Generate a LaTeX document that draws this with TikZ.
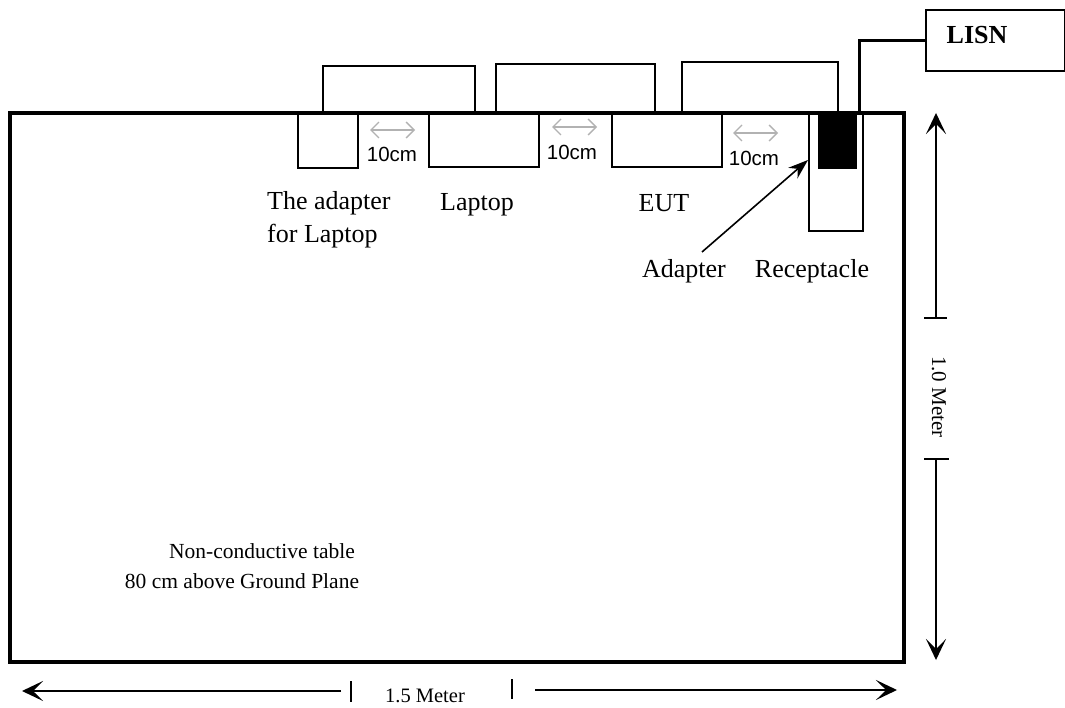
\documentclass[tikz,border=0pt]{standalone}
\usepackage{fontspec}
\setmainfont{Liberation Serif}
\newfontfamily\arialfont{Liberation Sans}
\usetikzlibrary{arrows.meta}
\tikzset{
  box/.style={draw, line width=1.6pt, inner sep=0pt, anchor=north west},
  lbl/.style={font=\fontsize{26}{33}\selectfont, inner sep=0pt, anchor=base},
  small/.style={font=\fontsize{21.5}{30}\selectfont, inner sep=0pt, anchor=base},
  gap/.style={gray!60, line width=1.4pt, {Straight Barb[length=8pt,width=16pt]}-{Straight Barb[length=8pt,width=16pt]}},
  gaplbl/.style={font=\arialfont\fontsize{20.5}{22}\selectfont, inner sep=0pt},
  dim/.style={line width=1.5pt},
  dimtip/.style={-{Stealth[length=21pt,width=20pt,inset=10pt]}},
}
\begin{document}
\begin{tikzpicture}[x=1pt, y=-1pt]
  \useasboundingbox (0,0) rectangle (1065,708);
  % cords behind the table
  \node[box, minimum width=152, minimum height=48] (cordA) at (322,65) {};
  \node[box, minimum width=159, minimum height=50] (cordB) at (495,63) {};
  \node[box, minimum width=156, minimum height=52] (cordC) at (681,61) {};
  % table
  \draw[line width=3.3pt, fill=white] (10,113) rectangle (904,662);
  \node[box, minimum width=60, minimum height=54] (lapadapter) at (297,113) {};
  \node[box, minimum width=110, minimum height=53] (laptop) at (428,113) {};
  \node[box, minimum width=110, minimum height=53] (eut) at (611,113) {};
  \node[box, minimum width=54, minimum height=117] (recept) at (808,113) {};
  \node[box, fill=black, minimum width=37, minimum height=53] (plug) at (818,114) {};
  \node[box, minimum width=139, minimum height=61] (lisn) at (925,9) {};
  \node[lbl, font=\bfseries\fontsize{26}{30}\selectfont] (lisnlbl) at (977,44) {LISN};
  \coordinate (wire) at (859,113);
  \draw[line width=3pt] (wire) |- (lisn.west);
  % 10cm spacing
  \draw[gap] (370,130) -- (415,130);
  \draw[gap] (552,127) -- (597,127);
  \draw[gap] (733,133) -- (778,133);
  \node[gaplbl] (gapA) at (392,154) {10cm};
  \node[gaplbl] (gapB) at (572,152) {10cm};
  \node[gaplbl] (gapC) at (754,158.5) {10cm};
  % labels
  \node[lbl, anchor=west, align=left] (adlap) at (267,220) {The adapter\\for Laptop};
  \node[lbl] (laplbl) at (477,211) {Laptop};
  \node[lbl] (eutlbl) at (664,212) {EUT};
  \node[lbl] (adlbl) at (684,278) {Adapter};
  \node[lbl] (reclbl) at (812,278) {Receptacle};
  \draw[line width=1.6pt, -{Stealth[length=20pt,width=14pt]}] (702,252) -- (recept.west |- 0,160);
  \node[small] (tableA) at (262,558) {Non-conductive table};
  \node[small] (tableB) at (242,588) {80 cm above Ground Plane};
  % 1.0 Meter
  \node[small, font=\fontsize{21}{24}\selectfont, rotate=-90] (hgt) at (932,397) {1.0 Meter};
  \draw[dim, dimtip] (936,318) -- (936,113);
  \draw[dim] (924,318) -- (947,318);
  \draw[dim, dimtip] (936,459) -- (936,660);
  \draw[dim] (924,459) -- (949,459);
  % 1.5 Meter
  \node[small, font=\fontsize{20.5}{24}\selectfont] (wid) at (425,702) {1.5 Meter};
  \draw[dim, dimtip] (341,691) -- (22,691);
  \draw[dim] (351,681) -- (351,702);
  \draw[dim, dimtip] (535,690) -- (897,690);
  \draw[dim] (512,679) -- (512,699);
\end{tikzpicture}
\end{document}
